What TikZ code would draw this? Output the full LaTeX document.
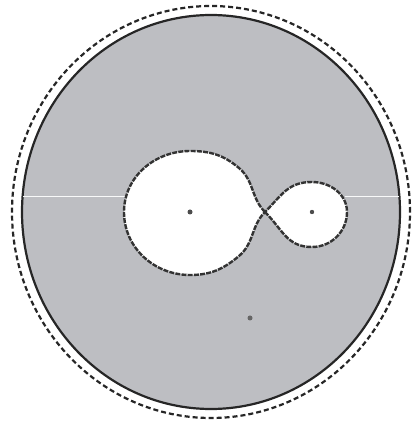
\documentclass[tikz,border=0pt]{standalone}
\definecolor{diskgray}{RGB}{189,190,194}
\begin{document}
\begin{tikzpicture}[x=1pt, y=1pt, line width=1.6pt]
  \def\cx{211}\def\cy{212}
  \useasboundingbox (0,0) rectangle (414,424);
  % disk and its rims
  \fill[diskgray] (\cx,\cy) ellipse [x radius=189, y radius=197];
  \draw[line width=2.2pt, black!85] (\cx,\cy) ellipse [x radius=189, y radius=197];
  \draw[line width=2.2pt, black!85, dash pattern=on 5pt off 3pt] (\cx,\cy) ellipse [x radius=199, y radius=206];
  \draw[line width=0.5pt, white!90!diskgray] (23,228) -- (126,228);
  \draw[line width=0.5pt, white!90!diskgray] (345,228) -- (399,228);
  % the two holes, meeting at X
  \coordinate (X) at (265,212);
  \coordinate (bigc) at (190,212);
  \coordinate (smallc) at (312,212);
  \coordinate (pt) at (250,106);
  \filldraw[fill=white, draw=black!80, line width=2.4pt, dash pattern=on 5pt off 1.2pt]
    (X) to[out=135,in=-40] (239,256) to[out=140,in=0] (190,273)
        to[out=180,in=90] (124,212) to[out=270,in=180] (190,149)
        to[out=0,in=220] (239,168) to[out=40,in=225] (X)
        to[out=45,in=180,looseness=1.1] (312,242)
        to[out=0,in=90] (347,212) to[out=270,in=0] (312,177)
        to[out=180,in=315,looseness=1.1] (X);
  \fill[black!70] (bigc) circle (2.5);
  \fill[black!70] (smallc) circle (2.2);
  \fill[black!60] (pt) circle (2.5);
\end{tikzpicture}
\end{document}
